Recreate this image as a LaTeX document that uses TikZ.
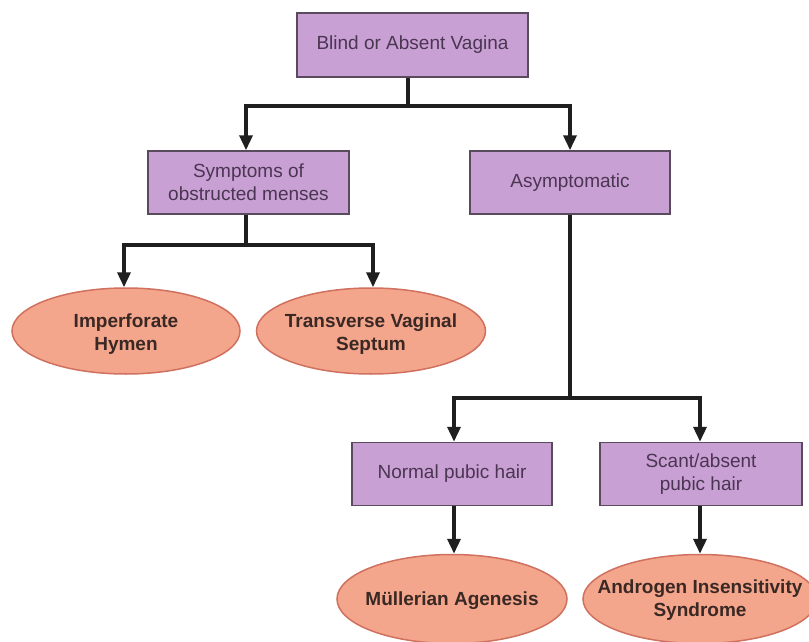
\documentclass[tikz,border=0pt]{standalone}
\usepackage{fontspec}
\setmainfont{Liberation Sans}
\usetikzlibrary{arrows.meta,shapes.geometric}
\definecolor{boxfill}{HTML}{C9A0D4}
\definecolor{boxline}{HTML}{5A4A5E}
\definecolor{boxtext}{HTML}{4A3552}
\definecolor{ellfill}{HTML}{F4A68C}
\definecolor{ellline}{HTML}{D0705E}
\definecolor{elltext}{HTML}{3A2824}
\tikzset{
  x=1pt, y=-1pt,
  qbox/.style={draw=boxline, line width=1.5pt, fill=boxfill, rectangle,
    minimum width=200pt, minimum height=63pt, align=center, text=boxtext,
    font=\fontsize{19}{23}\selectfont, inner sep=2pt},
  dx/.style={draw=ellline, line width=1.5pt, fill=ellfill, ellipse,
    minimum width=229pt, minimum height=86pt, inner sep=0pt},
  dxt/.style={align=center, text=elltext, yshift=-3pt,
    font=\bfseries\fontsize{19}{23}\selectfont, inner sep=0pt},
  link/.style={line width=3.5pt, draw=black!88},
  arr/.style={link, -{Triangle[length=15pt,width=13pt]}}
}
\begin{document}
\begin{tikzpicture}
\useasboundingbox[fill=white] (0,0) rectangle (809,642);
\node[qbox, minimum width=231pt, minimum height=64pt] (top) at (412.5,45) {Blind or Absent Vagina};
\node[qbox, minimum width=201pt] (sym) at (248.5,182.5) {Symptoms of\\obstructed menses};
\node[qbox] (asym) at (570,182.5) {Asymptomatic};
\node[dx, minimum width=228pt, label={[dxt]center:Imperforate\\Hymen}] (imp) at (126,331) {};
\node[dx, label={[dxt]center:Transverse Vaginal\\Septum}] (trans) at (371,331) {};
\node[qbox] (norm) at (452,474) {Normal pubic hair};
\node[qbox, minimum width=202pt] (scant) at (701,474) {Scant/absent\\pubic hair};
\node[dx, minimum width=230pt, minimum height=89pt, label={[dxt, yshift=1pt]center:Müllerian Agenesis}] (mull) at (452,599) {};
\node[dx, minimum width=234pt, minimum height=89pt, label={[dxt, yshift=2pt]center:Androgen Insensitivity\\Syndrome}] (andr) at (700,599) {};

\coordinate (j1) at (408,106);
\coordinate (j2) at (246,245);
\coordinate (j3) at (570,398);

\draw[link] ([xshift=-4.5pt]top.south) -- (j1);
\draw[arr] (j1) -| ([xshift=-2.5pt]sym.north);
\draw[arr] (j1) -| (asym.north);

\draw[link] ([xshift=-2.5pt]sym.south) -- (j2);
\draw[arr] (j2) -| ([xshift=-2pt]imp.north);
\draw[arr] (j2) -| ([xshift=2pt]trans.north);

\draw[link] (asym.south) -- (j3);
\draw[arr] (j3) -| ([xshift=2pt]norm.north);
\draw[arr] (j3) -| ([xshift=-1pt]scant.north);

\draw[arr] ([xshift=2pt]norm.south) -- ([xshift=2pt]mull.north);
\draw[arr] ([xshift=-1pt]scant.south) -- (andr.north);
\end{tikzpicture}
\end{document}
